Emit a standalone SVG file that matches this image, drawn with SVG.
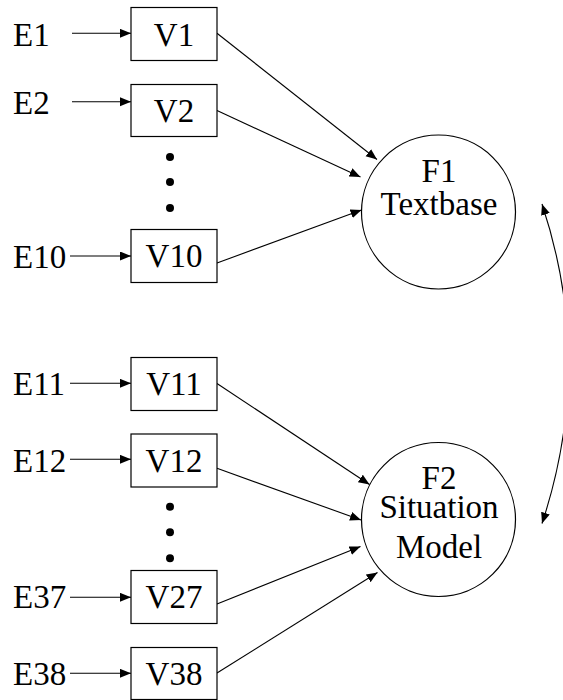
<svg xmlns="http://www.w3.org/2000/svg" width="563" height="700" viewBox="0 0 563 700">
<defs>
<marker id="ah" markerUnits="userSpaceOnUse" markerWidth="12" markerHeight="10" refX="11" refY="4.5" orient="auto-start-reverse">
<path d="M0,0 L11,4.5 L0,9 z" fill="#000"/>
</marker>
<style>
.t{font-size:33px;fill:#000}
.c{text-anchor:middle}
.box{fill:#fff;stroke:#000;stroke-width:1.2}
.lat{fill:#fff;stroke:#000;stroke-width:1.2}
.edge{fill:none;stroke:#000;stroke-width:1.1;marker-end:url(#ah)}
.dot{fill:#000}
</style>
</defs>
<rect width="563" height="700" fill="#fff"/>
<g id="connectors">
<line class="edge" x1="72" y1="33.3" x2="131" y2="33.3"/>
<line class="edge" x1="72" y1="101.7" x2="131" y2="101.7"/>
<line class="edge" x1="70" y1="256" x2="131" y2="256"/>
<line class="edge" x1="70" y1="383.3" x2="131" y2="383.3"/>
<line class="edge" x1="70" y1="459.3" x2="131" y2="459.3"/>
<line class="edge" x1="70" y1="597.3" x2="131" y2="597.3"/>
<line class="edge" x1="70" y1="673.3" x2="131" y2="673.3"/>
<line class="edge" x1="217" y1="33.3" x2="377" y2="159.5"/>
<line class="edge" x1="217" y1="110.5" x2="360.5" y2="177"/>
<line class="edge" x1="217" y1="263" x2="361.5" y2="210"/>
<line class="edge" x1="217" y1="383.5" x2="369.5" y2="484.5"/>
<line class="edge" x1="217" y1="468.3" x2="361" y2="520"/>
<line class="edge" x1="217" y1="604" x2="360.5" y2="546.5"/>
<line class="edge" x1="217" y1="673" x2="377.5" y2="572.5"/>
<path class="edge" style="marker-start:url(#ah)" d="M542,204 Q595,363.5 542,523.5"/>
</g>
<g font-family="Liberation Serif, Times New Roman, DejaVu Serif, serif" class="t">
<g id="E1"><text x="13" y="45.7">E1</text></g>
<g id="E2"><text x="13" y="113.5">E2</text></g>
<g id="E10"><text x="13" y="268">E10</text></g>
<g id="E11"><text x="13" y="395">E11</text></g>
<g id="E12"><text x="13" y="471.7">E12</text></g>
<g id="E37"><text x="13" y="608.3">E37</text></g>
<g id="E38"><text x="13" y="685">E38</text></g>
<g id="V1"><rect class="box" x="131" y="7.5" width="86" height="53"/><text class="c" x="174" y="45.5">V1</text></g>
<g id="V2"><rect class="box" x="131" y="84.5" width="86" height="52"/><text class="c" x="174" y="121.7">V2</text></g>
<g id="V10"><rect class="box" x="131" y="229.5" width="86" height="53"/><text class="c" x="174" y="267">V10</text></g>
<g id="V11"><rect class="box" x="131" y="357.5" width="86" height="53"/><text class="c" x="174" y="395">V11</text></g>
<g id="V12"><rect class="box" x="131" y="434" width="86" height="53"/><text class="c" x="174" y="471.7">V12</text></g>
<g id="V27"><rect class="box" x="131" y="570.5" width="86" height="53"/><text class="c" x="174" y="608.3">V27</text></g>
<g id="V38"><rect class="box" x="131" y="647.5" width="86" height="52"/><text class="c" x="174" y="685">V38</text></g>
<g id="F1"><circle class="lat" cx="438.5" cy="212" r="77"/><text class="c" x="439" y="182">F1</text><text class="c" x="439" y="215">Textbase</text></g>
<g id="F2"><circle class="lat" cx="438.5" cy="519.5" r="77"/><text class="c" x="439" y="488.5">F2</text><text class="c" x="439" y="517.5">Situation</text><text class="c" x="439" y="557.5">Model</text></g>
</g>
<g id="dots1"><circle class="dot" cx="170" cy="157" r="4"/><circle class="dot" cx="170" cy="182" r="4"/><circle class="dot" cx="170" cy="208" r="4"/></g>
<g id="dots2"><circle class="dot" cx="170" cy="506.7" r="4"/><circle class="dot" cx="170" cy="532.3" r="4"/><circle class="dot" cx="170" cy="558.3" r="4"/></g>
</svg>
